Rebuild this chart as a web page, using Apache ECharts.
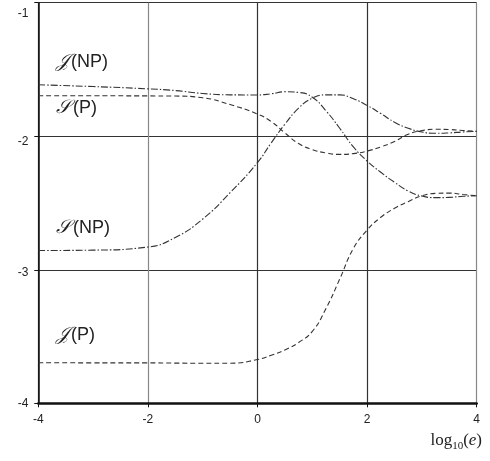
<!DOCTYPE html>
<html>
<head>
<meta charset="utf-8">
<script src="https://cdn.jsdelivr.net/npm/echarts@6/dist/echarts.min.js"></script>
<style>html,body{margin:0;padding:0;background:#fff;}#c{width:490px;height:461px;}</style>
</head>
<body>
<div id="c"></div>
<script>
const xs = [-4,-3,-2,-1.5,-1,-0.5,0,0.25,0.5,0.75,1,1.25,1.5,1.75,2,2.25,2.5,2.75,3,3.25,3.5,3.75,4];
const jNP = [-1.615,-1.628,-1.645,-1.658,-1.68,-1.69,-1.691,-1.682,-1.667,-1.672,-1.708,-1.81,-1.94,-2.08,-2.186,-2.27,-2.345,-2.41,-2.448,-2.46,-2.458,-2.45,-2.446];
const sP  = [-1.697,-1.697,-1.698,-1.699,-1.712,-1.763,-1.834,-1.89,-1.975,-2.055,-2.10,-2.125,-2.136,-2.13,-2.111,-2.08,-2.04,-1.985,-1.958,-1.948,-1.95,-1.957,-1.963];
const sNP = [-2.856,-2.853,-2.83,-2.758,-2.62,-2.423,-2.197,-2.05,-1.91,-1.79,-1.715,-1.69,-1.69,-1.72,-1.769,-1.83,-1.895,-1.94,-1.968,-1.978,-1.975,-1.968,-1.963];
const jP  = [-3.696,-3.697,-3.697,-3.699,-3.70,-3.70,-3.672,-3.64,-3.60,-3.545,-3.462,-3.29,-3.07,-2.84,-2.703,-2.607,-2.54,-2.49,-2.446,-2.428,-2.426,-2.436,-2.446];
const xTicks = [-4,-2,0,2,4];
const yTicks = [-4,-3,-2,-1];

const pts = ys => xs.map((x,i)=>[x, ys[i]]);
const dash = [5,3];
const dashDot = [7,2,1.5,2];

const chart = echarts.init(document.getElementById('c'), null, {renderer:'canvas'});
const labRich = {
  s:{fontFamily:'DejaVu Serif', fontStyle:'italic', fontSize:19, fill:'#222', padding:[0,2,0,0]},
  n:{fontFamily:'Liberation Sans', fontSize:18, fill:'#222'}
};
chart.setOption({
  animation:false,
  backgroundColor:'#fff',
  grid:{left:38.3, right:13.3, top:2.7, bottom:57.7, containLabel:false},
  xAxis:{
    type:'value', min:-4, max:4, interval:2,
    axisLine:{show:true, onZero:false, lineStyle:{color:'#111', width:2.5}},
    axisTick:{show:true, length:4, lineStyle:{color:'#111', width:1}},
    axisLabel:{margin:10, color:'#222', fontFamily:'Liberation Sans', fontSize:12,
      formatter: v => String(v)},
    splitLine:{show:true, showMinLine:true, showMaxLine:true, lineStyle:{color:['#333','#888','#333','#333','#888'], width:1.2}}
  },
  yAxis:{
    type:'value', min:-4, max:-1, interval:1,
    axisLine:{show:true, onZero:false, lineStyle:{color:'#111', width:1.5}},
    axisTick:{show:true, length:4, lineStyle:{color:'#111', width:1}},
    axisLabel:{margin:10, color:'#222', fontFamily:'Liberation Sans', fontSize:12,
      formatter: v => v === -1 ? '{t1|-1}' : v === -2 ? '{t2|-2}' : v === -3 ? '{t3|-3}' : String(v),
      rich:{
        t1:{padding:[22,0,0,0], fontFamily:'Liberation Sans', fontSize:12, color:'#222'},
        t2:{padding:[11,0,0,0], fontFamily:'Liberation Sans', fontSize:12, color:'#222'},
        t3:{padding:[5,0,0,0], fontFamily:'Liberation Sans', fontSize:12, color:'#222'}
      }},
    splitLine:{show:true, showMinLine:true, showMaxLine:true, lineStyle:{color:'#333', width:1.1}}
  },
  series:[
    {name:'J(NP)', type:'line', data:pts(jNP), smooth:0.5, showSymbol:false, lineStyle:{color:'#333', width:1.1, type:dashDot}},
    {name:'S(P)', type:'line', data:pts(sP), smooth:0.5, showSymbol:false, lineStyle:{color:'#333', width:1.1, type:dash}},
    {name:'S(NP)', type:'line', data:pts(sNP), smooth:0.5, showSymbol:false, lineStyle:{color:'#333', width:1.1, type:dashDot}},
    {name:'J(P)', type:'line', data:pts(jP), smooth:0.5, showSymbol:false, lineStyle:{color:'#333', width:1.1, type:dash}}
  ],
  graphic:[
    {type:'text', x:56, y:62, style:{text:'{s|𝒥}{n|(NP)}', verticalAlign:'middle', rich:labRich}},
    {type:'text', x:56, y:108, style:{text:'{s|𝒮}{n|(P)}', verticalAlign:'middle', rich:labRich}},
    {type:'text', x:56, y:228, style:{text:'{s|𝒮}{n|(NP)}', verticalAlign:'middle', rich:labRich}},
    {type:'text', x:56, y:335, style:{text:'{s|𝒥}{n|(P)}', verticalAlign:'middle', rich:labRich}},
    {type:'text', x:482, y:441, style:{text:'{a|log}{b|10}{a|(}{c|e}{a|)}', align:'right', verticalAlign:'middle',
      rich:{a:{fontFamily:'Liberation Serif', fontSize:17, lineHeight:22, verticalAlign:'middle', fill:'#222'},
            b:{fontFamily:'Liberation Serif', fontSize:11, lineHeight:22, verticalAlign:'bottom', fill:'#222'},
            c:{fontFamily:'Liberation Serif', fontStyle:'italic', fontSize:17, lineHeight:22, verticalAlign:'middle', fill:'#222'}}}}
  ]
});
</script>
</body>
</html>
